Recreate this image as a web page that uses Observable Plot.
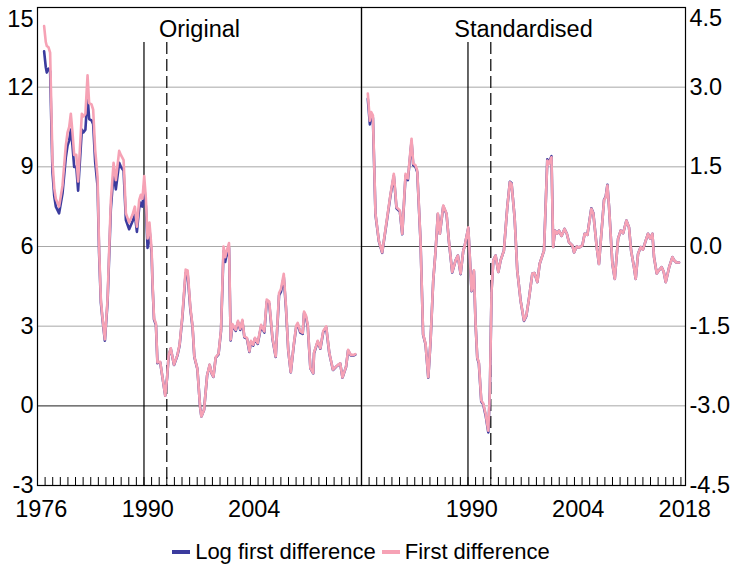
<!DOCTYPE html>
<html>
<head>
<meta charset="utf-8">
<script src="https://cdn.jsdelivr.net/npm/d3@7"></script>
<script src="https://cdn.jsdelivr.net/npm/@observablehq/plot@0.6"></script>
<style>
  body { margin: 0; background: #fff; font-family: "Liberation Sans", Arial, sans-serif; }
  #wrap { position: relative; width: 732px; height: 564px; overflow: hidden; }
  #charts { display: flex; }
  #charts svg { overflow: visible; }
  #legend { position: absolute; left: 37px; width: 648px; top: 540px; height: 24px;
            display: flex; justify-content: center; align-items: center;
            font-size: 22px; color: #000; white-space: nowrap; }
  .item { display: flex; align-items: center; margin: 0 3px; }
  .sw { width: 18px; height: 4px; margin-right: 5px; }
</style>
</head>
<body>
<div id="wrap">
  <div id="charts"></div>
  <div id="legend"></div>
</div>
<script>
// ---------- data ----------
const panelTitles = ["Original", "Standardised"];
const seriesNames = ["Log first difference", "First difference"];
const regimeBreaks = [1990, 1993];
const leftTickLabels = [1976, 1990, 2004];
const rightTickLabels = [1990, 2004, 2018];
const leftYTicks = [-3, 0, 3, 6, 9, 12, 15];
const rightYTicks = [-4.5, -3, -1.5, 0, 1.5, 3, 4.5];
const leftGrid = [3, 6, 9, 12];
const rightGrid = [-3, -1.5, 1.5, 3];
const minorTickYears = d3.range(1977, 2019);

// Original panel
const dateL = [1976.87,1977.09,1977.22,1977.45,1977.66,1977.97,1978.2,1978.41,1978.84,1979.29,1979.72,1979.95,1980.17,1980.38,1980.6,1980.82,1981.1,1981.34,1981.83,1982.05,1982.3,1982.58,1982.79,1983.1,1983.32,1983.58,1983.9,1984.1,1984.33,1984.55,1984.86,1985.21,1985.64,1986.0,1986.3,1986.74,1986.96,1987.32,1987.62,1988.05,1988.5,1988.8,1989.07,1989.37,1989.59,1989.8,1990.03,1990.25,1990.47,1990.72,1991.0,1991.13,1991.32,1991.57,1991.77,1992.13,1992.42,1992.8,1993.05,1993.24,1993.52,1993.95,1994.4,1994.68,1995.05,1995.48,1995.74,1996.1,1996.39,1996.62,1997.02,1997.38,1997.55,1997.9,1998.3,1998.64,1998.89,1999.13,1999.43,1999.8,2000.13,2000.46,2000.68,2000.8,2001.18,2001.4,2001.63,2002.06,2002.36,2002.66,2002.94,2003.2,2003.54,2003.86,2004.07,2004.37,2004.59,2004.95,2005.4,2005.82,2006.14,2006.47,2006.9,2007.32,2007.76,2008.01,2008.38,2008.67,2008.97,2009.3,2009.69,2010.02,2010.21,2010.55,2010.87,2011.05,2011.3,2011.53,2011.88,2012.25,2012.36,2012.84,2013.19,2013.57,2013.96,2014.37,2014.85,2015.25,2015.55,2015.8,2016.1,2016.57,2016.84,2017.19,2017.6,2017.79];
const pinkL = [14.3,13.7,13.55,13.5,13.3,9.2,8.2,7.8,7.5,8.3,9.8,10.3,10.5,11.0,10.3,9.45,9.45,8.45,11.0,10.9,11.0,12.45,11.4,11.35,11.15,9.65,8.6,5.9,4.0,3.3,2.5,4.0,7.7,9.15,8.5,9.6,9.45,9.25,7.25,6.9,7.2,7.5,6.75,7.75,7.95,7.8,8.65,7.8,6.3,6.9,5.9,4.6,3.3,3.1,1.63,1.66,1.1,0.38,1.1,1.9,2.17,1.55,1.92,2.3,3.4,5.13,5.1,3.7,2.99,1.86,1.4,-0.05,-0.4,-0.15,1.15,1.55,1.23,1.1,1.83,1.96,2.86,6.0,5.6,5.76,6.13,2.49,3.08,2.86,3.2,2.9,3.24,2.61,2.56,2.05,2.45,2.3,2.56,2.36,3.05,2.8,4.0,3.93,2.55,1.86,4.25,4.4,4.97,3.74,2.11,1.27,2.3,3.02,3.12,2.8,2.75,3.55,3.4,3.05,1.42,1.23,2.0,2.45,2.17,2.82,2.99,1.99,1.36,1.48,1.55,1.6,1.07,1.48,2.11,1.92,1.92,1.95];
const blueL = [13.35,12.75,12.55,12.7,12.6,8.8,7.9,7.5,7.25,8.0,9.35,9.8,10.0,10.4,9.8,9.0,9.0,8.1,10.4,10.3,10.4,11.7,10.8,10.75,10.6,9.2,8.25,5.75,3.9,3.25,2.45,3.9,7.4,8.75,8.15,9.15,9.0,8.85,7.0,6.65,6.95,7.2,6.55,7.45,7.65,7.5,8.3,7.5,5.95,6.65,5.75,4.5,3.25,3.05,1.61,1.64,1.09,0.38,1.09,1.88,2.15,1.54,1.9,2.27,3.34,5.0,4.97,3.63,2.95,1.84,1.39,-0.05,-0.4,-0.15,1.14,1.54,1.22,1.09,1.81,1.94,2.82,5.83,5.42,5.6,5.95,2.46,3.03,2.82,3.15,2.86,3.19,2.58,2.53,2.03,2.42,2.27,2.53,2.33,3.0,2.76,3.92,3.85,2.52,1.84,4.16,4.3,4.85,3.67,2.09,1.26,2.27,2.98,3.07,2.76,2.71,3.49,3.34,3.0,1.41,1.22,1.98,2.42,2.15,2.78,2.95,1.97,1.35,1.47,1.54,1.59,1.06,1.47,2.09,1.9,1.9,1.93];

// Standardised panel
const dateR = [1976.83,1977.1,1977.28,1977.5,1977.84,1978.28,1978.72,1979.38,1979.82,1980.25,1980.6,1981.04,1981.36,1981.79,1982.1,1982.58,1982.8,1983.1,1983.33,1983.76,1984.1,1984.42,1984.78,1985.08,1985.43,1985.74,1986.04,1986.3,1986.75,1987.18,1987.49,1987.93,1988.37,1988.67,1989.03,1989.38,1989.55,1990.04,1990.47,1990.78,1991.0,1991.22,1991.43,1991.75,1992.0,1992.32,1992.67,1992.88,1993.1,1993.33,1993.63,1993.99,1994.29,1994.72,1995.17,1995.51,1995.73,1996.13,1996.48,1996.92,1997.36,1997.67,1998.01,1998.46,1998.75,1999.12,1999.42,1999.99,2000.08,2000.43,2000.6,2000.98,2001.2,2001.43,2001.7,2001.96,2002.3,2002.7,2003.0,2003.28,2003.72,2003.95,2004.3,2004.6,2005.04,2005.34,2005.7,2006.22,2006.48,2006.92,2007.22,2007.89,2008.11,2008.33,2008.55,2008.99,2009.3,2009.74,2010.08,2010.4,2010.83,2011.17,2011.45,2011.83,2012.05,2012.36,2012.71,2013.0,2013.37,2013.67,2013.95,2014.25,2014.46,2014.82,2015.1,2015.47,2015.74,2016.0,2016.45,2016.88,2017.1,2017.4,2017.75];
const pinkR = [2.88,2.37,2.53,2.47,0.62,0.11,-0.11,0.55,0.99,1.37,0.74,0.68,0.24,1.37,1.28,2.03,1.56,1.53,1.43,0.11,-1.65,-1.83,-2.46,-1.77,-0.64,-0.08,0.62,0.24,0.77,0.62,0.11,-0.48,-0.26,-0.17,-0.51,-0.08,0.0,0.36,-0.83,-0.45,-1.46,-2.09,-2.18,-2.9,-2.95,-3.15,-3.47,-2.71,-0.83,-0.26,-0.17,-0.48,-0.26,-0.08,0.74,1.21,1.18,0.55,-0.45,-1.02,-1.39,-1.3,-0.99,-0.51,-0.5,-0.67,-0.33,-0.08,0.24,1.62,1.55,1.68,-0.01,0.3,0.24,0.3,0.2,0.33,0.24,0.08,0.02,-0.11,0.0,-0.02,0.02,0.24,0.22,0.71,0.62,0.0,-0.33,0.87,0.93,1.15,0.74,-0.33,-0.61,0.15,0.3,0.25,0.49,0.36,-0.08,-0.39,-0.61,-0.14,-0.01,-0.06,0.11,0.24,0.15,0.24,-0.2,-0.51,-0.45,-0.39,-0.48,-0.67,-0.39,-0.2,-0.26,-0.3,-0.3];
const blueR = [2.78,2.3,2.47,2.42,0.6,0.1,-0.12,0.53,0.97,1.33,0.72,0.66,0.23,1.33,1.25,1.98,1.53,1.5,1.4,0.1,-1.66,-1.84,-2.47,-1.78,-0.65,-0.08,0.61,0.24,0.76,0.61,0.1,-0.49,-0.26,-0.17,-0.52,-0.08,0.0,0.35,-0.84,-0.46,-1.47,-2.1,-2.2,-2.92,-2.97,-3.18,-3.5,-2.73,-0.83,-0.26,-0.17,-0.48,-0.26,-0.08,0.74,1.22,1.19,0.55,-0.45,-1.02,-1.4,-1.31,-0.99,-0.51,-0.5,-0.67,-0.33,-0.08,0.24,1.64,1.57,1.7,-0.01,0.3,0.24,0.3,0.2,0.33,0.24,0.08,0.02,-0.11,0.0,-0.02,0.02,0.24,0.22,0.72,0.63,0.0,-0.33,0.88,0.94,1.16,0.74,-0.33,-0.61,0.15,0.3,0.25,0.49,0.36,-0.08,-0.39,-0.61,-0.14,-0.01,-0.06,0.11,0.24,0.15,0.24,-0.2,-0.51,-0.45,-0.39,-0.48,-0.67,-0.39,-0.2,-0.26,-0.3,-0.3];

// ---------- drawing ----------
const PINK = "#f6a2b5";
const BLUE = "#3b3b9e";
const FONT = "'Liberation Sans', Arial, sans-serif";
const H = 532, MT = 7, MB = 47;
const xDomain = [1976, 2018.6];

const rowsL = dateL.map((t, i) => ({t, pink: pinkL[i], blue: blueL[i]}));
const rowsR = dateR.map((t, i) => ({t, pink: pinkR[i], blue: blueR[i]}));

function panel(o) {
  const plotH = H - MT - MB;
  return Plot.plot({
    width: o.width, height: H,
    marginLeft: o.marginLeft, marginRight: o.marginRight, marginTop: MT, marginBottom: MB,
    x: {domain: xDomain, label: null},
    y: {domain: o.yDomain, label: null},
    style: {fontFamily: FONT, fontSize: "23.5px", color: "#000", background: "transparent", overflow: "visible"},
    marks: [
      Plot.ruleY(o.grid, {stroke: "#a8a8a8", strokeWidth: 1}),
      Plot.ruleY([0], {stroke: "#4a4a4a", strokeWidth: 1.2}),
      Plot.ruleX([regimeBreaks[0]], {stroke: "#000", strokeWidth: 1.2, insetTop: 35}),
      Plot.ruleX([regimeBreaks[1]], {stroke: "#000", strokeWidth: 1.2, strokeDasharray: "12,5", insetTop: 35}),
      Plot.tickX(minorTickYears, {x: d => d, insetTop: plotH - 8, stroke: "#000", strokeWidth: 1}),
      Plot.line(o.rows, {x: "t", y: "blue", stroke: BLUE, strokeWidth: 2.6, curve: "linear"}),
      Plot.line(o.rows, {x: "t", y: "pink", stroke: PINK, strokeWidth: 2.6, curve: "linear"}),
      Plot.frame({stroke: "#000", strokeWidth: 1.2}),
      Plot.axisY(o.yTicks.slice(0, -1), {anchor: o.yAnchor, label: null, tickSize: 0, tickPadding: 4, tickFormat: o.yFmt}),
      Plot.axisY(o.yTicks.slice(-1), {anchor: o.yAnchor, label: null, tickSize: 0, tickPadding: 4, tickFormat: o.yFmt, dy: o.topDy}),
      Plot.axisX(o.xLabels.map(y => y + 0.5), {anchor: "bottom", label: null, tickSize: 0, tickPadding: 15, tickFormat: d => String(Math.floor(d))}),
      Plot.text([o.title], {frameAnchor: "top", lineAnchor: "top", dy: 12.5, fontSize: 23.5, text: d => d})
    ]
  });
}

const left = panel({
  width: 361, marginLeft: 37, marginRight: 0,
  yDomain: [-3, 15], yTicks: leftYTicks, grid: leftGrid, yAnchor: "left",
  yFmt: d => String(d), topDy: 12, rows: rowsL, title: panelTitles[0], xLabels: leftTickLabels
});
const right = panel({
  width: 371, marginLeft: 0, marginRight: 47,
  yDomain: [-4.5, 4.5], yTicks: rightYTicks, grid: rightGrid, yAnchor: "right",
  yFmt: d => d.toFixed(1), topDy: 11, rows: rowsR, title: panelTitles[1], xLabels: rightTickLabels
});
document.getElementById("charts").append(left, right);

const legend = document.getElementById("legend");
[[seriesNames[0], BLUE], [seriesNames[1], PINK]].forEach(([name, c]) => {
  const it = document.createElement("div");
  it.className = "item";
  const sw = document.createElement("div");
  sw.className = "sw";
  sw.style.background = c;
  const tx = document.createElement("span");
  tx.textContent = name;
  it.append(sw, tx);
  legend.append(it);
});
</script>
</body>
</html>
